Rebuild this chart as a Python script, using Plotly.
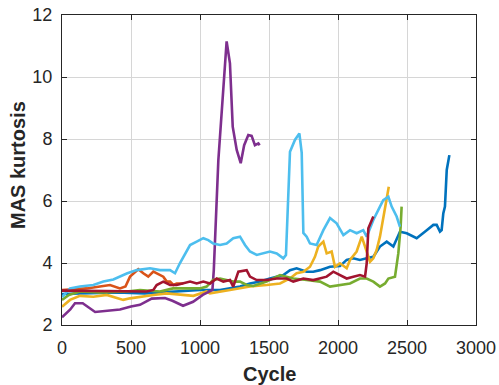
import plotly.graph_objects as go

# ---- data ----
blue_x = [0, 200, 400, 600, 855, 1000, 1145, 1217, 1290, 1362, 1435, 1507, 1604, 1652, 1700, 1773, 1821, 1870, 1942,
          2014, 2063, 2111, 2159, 2208, 2256, 2304, 2353, 2401, 2449, 2498, 2570, 2643, 2691, 2715, 2739, 2751, 2763,
          2775, 2788, 2807]
blue_y = [3.0, 3.02, 3.05, 3.02, 3.08, 3.13, 3.13, 3.18, 3.24, 3.34, 3.4, 3.5, 3.61, 3.77, 3.83, 3.72, 3.72, 3.77, 3.88,
          3.9, 4.1, 4.15, 4.1, 4.15, 4.2, 4.53, 4.69, 4.53, 5.01, 4.96, 4.8, 5.06, 5.23, 5.23, 5.01, 5.06, 5.6,
          5.82, 7.0, 7.48]

orange_x = [0, 80, 179, 275, 348, 420, 460, 493, 529, 553, 589, 625, 662, 710, 734, 759, 783, 807, 831, 855, 879]
orange_y = [3.13, 3.15, 3.18, 3.24, 3.29, 3.18, 3.24, 3.56, 3.72, 3.8, 3.67, 3.56, 3.72, 3.61, 3.56, 3.4, 3.4, 3.29,
            3.34, 3.34, 3.34]

yellow_x = [0, 58, 130, 227, 324, 396, 444, 493, 565, 662, 759, 855, 952, 1048, 1072, 1217, 1362, 1483, 1580, 1652,
            1700, 1749, 1797, 1833, 1857, 1894, 1918, 1954, 1978, 2014, 2063, 2087, 2135, 2172, 2184, 2208, 2232,
            2256, 2280, 2304, 2328, 2353, 2368]
yellow_y = [2.59, 2.81, 2.94, 2.91, 2.97, 2.86, 2.81, 2.86, 2.91, 2.97, 3.02, 2.97, 2.94, 3.08, 3.02, 3.13, 3.24, 3.29,
            3.34, 3.5, 3.67, 3.72, 3.88, 4.2, 4.53, 4.69, 4.31, 4.37, 3.88, 3.99, 3.83, 4.1, 4.37, 4.85, 4.69, 4.31,
            4.04, 4.15, 4.42, 4.85, 5.5, 6.14, 6.46]

purple_x = [0, 60, 94, 150, 240, 300, 420, 500, 565, 650, 746, 800, 877, 950, 1020, 1090, 1100, 1133, 1152, 1175,
            1193, 1217, 1237, 1266, 1295, 1320, 1350, 1374, 1398, 1423, 1432]
purple_y = [2.25, 2.5, 2.7, 2.7, 2.42, 2.45, 2.5, 2.6, 2.65, 2.85, 2.87, 2.78, 2.62, 2.75, 2.97, 3.13, 3.77, 7.32, 8.61,
            10.2, 11.15, 10.44, 8.4, 7.65, 7.22, 7.8, 8.13, 8.1, 7.8, 7.86, 7.8]

green_x = [0, 50, 130, 275, 469, 565, 710, 804, 903, 1000, 1048, 1095, 1145, 1193, 1241, 1290, 1338, 1386, 1483, 1580,
           1676, 1773, 1870, 1942, 2014, 2087, 2159, 2208, 2256, 2304, 2341, 2365, 2413, 2437, 2454, 2461]
green_y = [2.81, 2.97, 3.08, 3.05, 3.08, 3.13, 3.08, 3.18, 3.18, 3.18, 3.24, 3.45, 3.5, 3.45, 3.4, 3.4, 3.29, 3.26,
           3.4, 3.61, 3.5, 3.45, 3.4, 3.24, 3.3, 3.34, 3.5, 3.5, 3.4, 3.24, 3.34, 3.5, 3.56, 4.31, 5.17, 5.82]

lblue_x = [0, 58, 130, 227, 300, 372, 469, 541, 638, 710, 783, 819, 855, 903, 928, 976, 1024, 1060, 1096, 1145, 1193,
           1241, 1290, 1326, 1362, 1411, 1459, 1507, 1556, 1604, 1623, 1645, 1652, 1688, 1720, 1737, 1749, 1773,
           1797, 1845, 1870, 1894, 1942, 1990, 2039, 2087, 2135, 2183, 2208, 2256, 2304, 2328, 2365, 2389, 2425, 2449]
lblue_y = [2.9, 3.18, 3.24, 3.29, 3.4, 3.47, 3.66, 3.77, 3.83, 3.77, 3.77, 3.67, 4.0, 4.37, 4.58, 4.69, 4.8, 4.74,
           4.63, 4.58, 4.63, 4.8, 4.85, 4.58, 4.37, 4.26, 4.31, 4.37, 4.31, 4.15, 4.26, 6.5, 7.59, 7.97, 8.18, 7.55,
           4.97, 4.85, 4.63, 4.58, 4.85, 5.06, 5.45, 5.28, 4.9, 5.06, 4.96, 5.06, 4.85, 5.39, 5.82, 6.03, 6.14, 5.82,
           5.5, 5.17]

dred_x = [0, 200, 469, 614, 662, 686, 734, 783, 831, 879, 928, 976, 1024, 1072, 1121, 1169, 1217, 1241, 1278, 1338,
          1362, 1411, 1483, 1556, 1628, 1676, 1749, 1821, 1918, 1966, 2014, 2063, 2111, 2159, 2196, 2208, 2220, 2244,
          2256]
dred_y = [3.11, 3.1, 3.08, 3.08, 3.13, 3.29, 3.4, 3.29, 3.29, 3.34, 3.4, 3.34, 3.4, 3.34, 3.5, 3.4, 3.45, 3.24, 3.72,
          3.77, 3.56, 3.45, 3.45, 3.5, 3.5, 3.4, 3.5, 3.45, 3.56, 3.72, 3.61, 3.5, 3.56, 3.61, 3.56, 3.99, 5.12, 5.39,
          5.5]

series = [
    (blue_x, blue_y, "#0072BD"),
    (orange_x, orange_y, "#D95319"),
    (yellow_x, yellow_y, "#EDB120"),
    (purple_x, purple_y, "#7E2F8E"),
    (green_x, green_y, "#77AC30"),
    (lblue_x, lblue_y, "#4DBEEE"),
    (dred_x, dred_y, "#A2142F"),
]

x_ticks = [0, 500, 1000, 1500, 2000, 2500, 3000]
y_ticks = [2, 4, 6, 8, 10, 12]

fig = go.Figure()
for xs, ys, c in series:
    fig.add_trace(go.Scatter(x=xs, y=ys, mode="lines", line=dict(color=c, width=2.6), showlegend=False))

axis_common = dict(
    showline=True, linecolor="#262626", linewidth=1, mirror="ticks",
    ticks="inside", ticklen=5, tickcolor="#262626", tickwidth=1,
    showgrid=True, gridcolor="#d6d6d6", gridwidth=1, zeroline=False,
    automargin=False, ticklabeloverflow="allow",
    tickfont=dict(family="Liberation Sans, Arial", size=18, color="#262626"),
)

fig.update_layout(
    width=499, height=385,
    margin=dict(l=62, r=23, t=15, b=60),
    paper_bgcolor="white", plot_bgcolor="white",
    font=dict(family="Liberation Sans, Arial", color="#262626"),
    xaxis=dict(range=[0, 3000], tickvals=x_ticks, ticklabelstandoff=6, **axis_common),
    yaxis=dict(range=[2, 12], tickvals=y_ticks, ticklabelstandoff=5, **axis_common),
    annotations=[
        dict(text="<b>Cycle</b>", xref="paper", yref="paper", x=0.5, y=0, xanchor="center", yanchor="middle",
             yshift=-49, showarrow=False, font=dict(size=20, color="#262626")),
        dict(text="<b>MAS kurtosis</b>", xref="paper", yref="paper", x=0, y=0.5, xanchor="center",
             yanchor="middle", xshift=-44, yshift=5, textangle=-90, showarrow=False,
             font=dict(size=20, color="#262626")),
    ],
)

# remove the default 8px page margin so the figure sits at the window's top-left corner
fig.write_html("out.html", config={"displayModeBar": False},
               post_script="document.body.style.margin='0';")
